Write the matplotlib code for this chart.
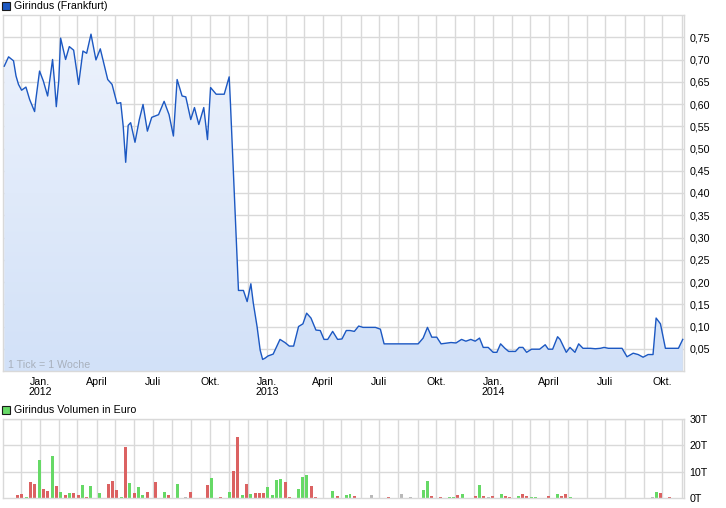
import numpy as np
import pandas as pd
import matplotlib
matplotlib.use("Agg")
import matplotlib.pyplot as plt
import matplotlib.dates as mdates
from matplotlib.patches import Rectangle
from matplotlib.colors import LinearSegmentedColormap

# ---------------- data ----------------
base_date = "2012-01-01"
# price series: days since 2012-01-01 and closing price (EUR)
price_days = [-58, -51, -43, -39, -35, -30, -23, -17, -9, -7, -1, 5, 12, 16, 20, 23, 26, 30, 33, 41,
              47, 54, 59, 62, 69, 75, 82, 90, 97, 109, 116, 124, 130, 134, 138, 142, 146, 153, 160, 166,
              173, 180, 191, 200, 208, 215, 221, 229, 235, 243, 249, 256, 264, 270, 275, 284, 297, 305, 307, 320,
              328, 334, 340, 344, 350, 355, 359, 363, 368, 376, 387, 395, 402, 409, 417, 424, 430, 437, 445, 452,
              458, 464, 472, 480, 487, 494, 500, 507, 514, 521, 541, 549, 555, 610, 618, 625, 632, 640, 647, 663,
              671, 680, 687, 695, 702, 709, 715, 723, 731, 737, 743, 750, 756, 767, 773, 779, 785, 793, 806, 815,
              820, 827, 835, 839, 849, 855, 863, 869, 876, 888, 896, 904, 910, 917, 939, 947, 957, 965, 973, 981,
              989, 994, 1001, 1009, 1030, 1037]
price_vals = [0.685, 0.706, 0.697, 0.663, 0.644, 0.631, 0.638, 0.610, 0.583, 0.610, 0.674, 0.652, 0.618, 0.659, 0.700, 0.652, 0.594, 0.652, 0.748, 0.700,
              0.729, 0.721, 0.674, 0.644, 0.719, 0.714, 0.757, 0.699, 0.724, 0.655, 0.644, 0.601, 0.603, 0.550, 0.469, 0.552, 0.558, 0.514, 0.565, 0.599,
              0.539, 0.570, 0.576, 0.606, 0.576, 0.528, 0.655, 0.618, 0.616, 0.565, 0.592, 0.554, 0.592, 0.520, 0.637, 0.622, 0.622, 0.661, 0.603, 0.181,
              0.181, 0.156, 0.196, 0.152, 0.100, 0.047, 0.026, 0.029, 0.034, 0.038, 0.071, 0.064, 0.056, 0.056, 0.100, 0.106, 0.130, 0.119, 0.092, 0.091,
              0.071, 0.071, 0.089, 0.071, 0.072, 0.091, 0.091, 0.089, 0.101, 0.098, 0.098, 0.094, 0.061, 0.061, 0.074, 0.098, 0.076, 0.076, 0.061, 0.064,
              0.063, 0.071, 0.067, 0.071, 0.067, 0.074, 0.053, 0.053, 0.042, 0.042, 0.061, 0.051, 0.044, 0.044, 0.053, 0.053, 0.042, 0.049, 0.049, 0.059,
              0.049, 0.049, 0.077, 0.071, 0.042, 0.053, 0.042, 0.061, 0.051, 0.051, 0.050, 0.051, 0.053, 0.051, 0.051, 0.032, 0.040, 0.037, 0.031, 0.037,
              0.037, 0.119, 0.106, 0.051, 0.051, 0.071]

# volume (thousand EUR), days since 2012-01-01
vol_days = [-37, -30, -22, -16, -9, -1, 5, 12, 20, 26, 33, 41, 47, 54, 62, 68, 75, 81, 96, 110,
            117, 123, 131, 138, 144, 152, 159, 165, 173, 186, 200, 207, 222, 235, 243, 270, 276, 291, 305, 312,
            318, 326, 333, 339, 347, 354, 360, 367, 375, 381, 388, 396, 402, 417, 423, 430, 438, 444, 472, 480,
            494, 500, 507, 535, 562, 583, 597, 619, 625, 631, 646, 660, 667, 673, 681, 702, 709, 715, 723, 730,
            744, 751, 757, 772, 778, 785, 793, 799, 820, 835, 841, 848, 856, 988, 995, 1001, 1016]
vol_vals = [1.1, 1.5, 0.4, 6.0, 5.3, 14.3, 3.4, 2.6, 15.8, 4.5, 2.3, 1.1, 1.9, 1.9, 1.1, 4.9, 0.4, 4.5, 1.9, 5.3,
            6.4, 3.0, 0.4, 19.5, 5.6, 1.9, 4.1, 1.1, 2.3, 6.0, 2.3, 1.1, 5.3, 0.4, 2.3, 4.9, 7.5, 0.4, 2.3, 10.1,
            23.3, 1.1, 5.3, 1.5, 1.9, 1.9, 1.9, 4.1, 1.1, 6.8, 7.1, 6.0, 0.4, 3.4, 7.9, 8.6, 4.5, 0.4, 2.6, 0.75,
            1.1, 1.5, 0.75, 1.1, 0.4, 1.5, 0.4, 3.0, 6.4, 0.75, 0.4, 0.4, 0.4, 1.1, 1.5, 0.75, 4.9, 0.75, 0.4, 0.75,
            1.5, 0.75, 0.4, 0.75, 1.5, 0.75, 0.4, 0.4, 0.75, 1.5, 0.75, 1.5, 0.4, 0.4, 2.3, 1.9, 0.4]
# weekly direction: u = up (green), d = down (red), n = unchanged (grey)
vol_dir = ['d', 'd', 'u', 'd', 'd', 'u', 'd', 'd', 'u', 'd', 'u', 'd', 'u', 'd', 'd', 'u', 'd', 'u', 'u', 'd',
           'd', 'd', 'u', 'd', 'u', 'd', 'u', 'u', 'd', 'd', 'u', 'd', 'u', 'n', 'd', 'd', 'u', 'd', 'u', 'd',
           'd', 'u', 'd', 'u', 'd', 'd', 'd', 'u', 'u', 'u', 'u', 'd', 'd', 'u', 'u', 'u', 'd', 'd', 'u', 'd',
           'u', 'u', 'd', 'n', 'd', 'n', 'n', 'u', 'u', 'd', 'd', 'u', 'u', 'd', 'u', 'd', 'u', 'd', 'n', 'd',
           'u', 'd', 'd', 'u', 'd', 'd', 'u', 'u', 'd', 'u', 'd', 'd', 'u', 'n', 'u', 'd', 'd']

tick_dates = ["2012-01-01", "2012-04-01", "2012-07-01", "2012-10-01",
              "2013-01-01", "2013-04-01", "2013-07-01", "2013-10-01",
              "2014-01-01", "2014-04-01", "2014-07-01", "2014-10-01"]
tick_labels = ["Jan.\n2012", "April", "Juli", "Okt.", "Jan.\n2013", "April", "Juli", "Okt.",
               "Jan.\n2014", "April", "Juli", "Okt."]
price_ticks = [0.05, 0.10, 0.15, 0.20, 0.25, 0.30, 0.35, 0.40, 0.45, 0.50, 0.55, 0.60, 0.65, 0.70, 0.75]
vol_ticks = [0, 10, 20, 30]
vol_tick_labels = ["0T", "10T", "20T", "30T"]
x_range_days = [-60, 1039]

# ---------------- style ----------------
plt.rcParams['font.family'] = ['Liberation Sans', 'DejaVu Sans']
FS = 7.7
GRID = '#d9d9d9'
LINE = '#1c58c2'
W, H = 726, 508
fig = plt.figure(figsize=(W / 100, H / 100), dpi=100)

def px_axes(l, t, r, b):
    return fig.add_axes([l / W, 1 - b / H, (r - l) / W, (b - t) / H])

base = pd.Timestamp(base_date)
pdates = base + pd.to_timedelta(price_days, unit='D')
vdates = base + pd.to_timedelta(vol_days, unit='D')
xlim = [mdates.date2num(base + pd.Timedelta(days=d)) for d in x_range_days]
tdates = [mdates.date2num(pd.Timestamp(t)) for t in tick_dates]
month_lines = mdates.date2num(pd.date_range("2011-11-01", "2014-11-30", freq="MS"))

# ---------------- price panel ----------------
ax = px_axes(3, 15, 684, 371)
ax.set_xlim(xlim)
ax.set_ylim(0, 0.80)
for m in month_lines:
    ax.axvline(m, color=GRID, lw=1, zorder=0)
for v in price_ticks:
    ax.axhline(v, color=GRID, lw=1, zorder=0)

xnum = mdates.date2num(pdates)
poly = ax.fill_between(xnum, price_vals, 0, color='none', lw=0)
grad = np.linspace(0, 1, 256).reshape(-1, 1)
cmap = LinearSegmentedColormap.from_list('g', ['#d2e1f8', '#eef3fc'])
im = ax.imshow(grad, extent=[xlim[0], xlim[1], 0, 0.80], origin='lower', aspect='auto',
               cmap=cmap, zorder=1)
path = poly.get_paths()[0]
im.set_clip_path(path, transform=ax.transData)
ax.plot(xnum, price_vals, color=LINE, lw=1.0, zorder=3)
ax.set_xlim(xlim)
ax.set_ylim(0, 0.80)

ax.yaxis.tick_right()
ax.set_yticks(price_ticks)
ax.set_yticklabels([f"{v:.2f}".replace('.', ',') for v in price_ticks], fontsize=FS)
ax.set_xticks(tdates)
ax.set_xticklabels(tick_labels, fontsize=FS, linespacing=1.05)
ax.tick_params(length=0, pad=4)
for s in ax.spines.values():
    s.set_color(GRID)
    s.set_linewidth(1)
ax.text(5 / 681, 6.5 / 356, "1 Tick = 1 Woche", transform=ax.transAxes, fontsize=FS,
        color='#a8b0bc', ha='left', va='center', zorder=4)

# ---------------- volume panel ----------------
av = px_axes(3, 419, 684, 498)
av.set_xlim(xlim)
av.set_ylim(0, 30)
for m in month_lines:
    av.axvline(m, color=GRID, lw=1, zorder=0)
for v in vol_ticks[1:]:
    av.axhline(v, color=GRID, lw=1, zorder=0)
colmap = {'u': '#66d966', 'd': '#db6262', 'n': '#b8b8b8'}
cols = [colmap[c] for c in vol_dir]
av.bar(mdates.date2num(vdates), vol_vals, width=4.6, color=cols, zorder=2, lw=0)
av.yaxis.tick_right()
av.set_yticks(vol_ticks)
av.set_yticklabels(vol_tick_labels, fontsize=FS)
av.set_xticks([])
av.tick_params(length=0, pad=4)
for s in av.spines.values():
    s.set_color(GRID)
    s.set_linewidth(1)

# ---------------- legends ----------------
fig.patches.append(Rectangle((2 / W, 1 - 10 / H), 8 / W, 8 / H, transform=fig.transFigure,
                             facecolor='#1c58c2', edgecolor='#1a1a1a', lw=0.8))
fig.text(14 / W, 1 - 6 / H, "Girindus (Frankfurt)", fontsize=FS, va='center', ha='left')
fig.patches.append(Rectangle((2 / W, 1 - 414 / H), 8 / W, 8 / H, transform=fig.transFigure,
                             facecolor='#66d966', edgecolor='#1a1a1a', lw=0.8))
fig.text(14 / W, 1 - 410 / H, "Girindus Volumen in Euro", fontsize=FS, va='center', ha='left')

fig.savefig("out.png", dpi=100, facecolor='white')
